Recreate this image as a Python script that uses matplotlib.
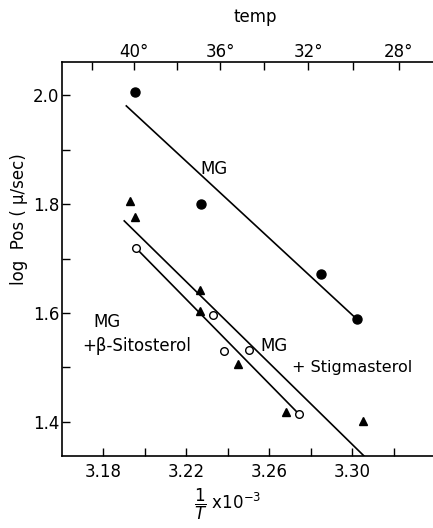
import numpy as np
import matplotlib.pyplot as plt

# MG (filled circles)
mg_x = [3.195, 3.227, 3.285, 3.302]
mg_y = [2.005, 1.800, 1.672, 1.589]
mg_fit_x = [3.191, 3.302]
mg_fit_y = [1.980, 1.589]

# MG + stigmasterol (filled triangles)
stig_x = [3.193, 3.195, 3.2265, 3.2265, 3.245, 3.268, 3.305]
stig_y = [1.805, 1.776, 1.642, 1.604, 1.506, 1.418, 1.402]
stig_fit_x = [3.190, 3.306]
stig_fit_y = [1.769, 1.336]

# MG + beta-sitosterol (open circles)
sito_x = [3.1957, 3.233, 3.238, 3.250, 3.274]
sito_y = [1.719, 1.596, 1.530, 1.532, 1.415]
sito_fit_x = [3.1957, 3.2733]
sito_fit_y = [1.719, 1.418]

x_ticks = [3.18, 3.22, 3.26, 3.30]
y_ticks = [1.4, 1.6, 1.8, 2.0]
temp_ticks = [40, 36, 32, 28]
temp_minor = [42, 38, 34, 30]

plt.rcParams['font.family'] = ['DejaVu Sans']

fig = plt.figure(figsize=(4.33, 5.28), dpi=100)
ax = fig.add_axes([62 / 433, 1 - 456 / 528, 1 - 62 / 433, (456 - 62) / 528])

ax.plot(mg_fit_x, mg_fit_y, color='black', lw=1.2)
ax.plot(stig_fit_x, stig_fit_y, color='black', lw=1.2)
ax.plot(sito_fit_x, sito_fit_y, color='black', lw=1.2)

ax.plot(mg_x, mg_y, 'o', color='black', ms=6.5, ls='none')
ax.plot(stig_x, stig_y, '^', color='black', ms=6, ls='none')
ax.plot(sito_x, sito_y, 'o', mfc='white', mec='black', mew=1.0, ms=5.5, ls='none')

ax.set_xlim(3.16, 3.3388)
ax.set_ylim(1.3376, 2.0606)

ax.set_xticks(x_ticks)
ax.set_xticklabels([f"{v:.2f}" for v in x_ticks])
ax.set_xticks([3.20, 3.24, 3.28, 3.32], minor=True)
ax.set_yticks(y_ticks)
ax.set_yticklabels([f"{v:.1f}" for v in y_ticks])
ax.set_yticks([1.5, 1.7, 1.9], minor=True)

ax.tick_params(direction='in', length=6, width=1, labelsize=12)
ax.tick_params(which='minor', direction='in', length=6, width=1)
ax.tick_params(axis='x', pad=5)
ax.tick_params(axis='y', pad=2)

ax.spines['right'].set_visible(False)
for s in ['left', 'bottom', 'top']:
    ax.spines[s].set_linewidth(1.2)

# top temperature axis
top = ax.secondary_xaxis('top', functions=(lambda v: v, lambda v: v))
top.set_xticks([1 / (t + 273) * 1000 for t in temp_ticks])
top.set_xticklabels([f"{t}\u00b0" for t in temp_ticks])
top.set_xticks([1 / (t + 273) * 1000 for t in temp_minor], minor=True)
top.tick_params(direction='in', length=6, width=1, labelsize=12, pad=1)
top.tick_params(which='minor', direction='in', length=6, width=1)
top.spines['top'].set_visible(False)
fig.text(255 / 433, 1 - 17 / 528, "temp", ha='center', va='center', fontsize=12)

ax.set_ylabel("log  Pos ( \u03bc/sec)", fontsize=12)
ax.yaxis.set_label_coords(-0.092, 0.60)
ax.set_xlabel(r"$\dfrac{1}{T}$" + " x10$^{-3}$", fontsize=12)
ax.xaxis.set_label_coords(0.447, -0.079)

ax.text(3.2265, 1.865, "MG", fontsize=12, ha='left', va='center')
ax.text(3.175, 1.583, "MG", fontsize=12, ha='left', va='center')
ax.text(3.1696, 1.540, "+\u03b2-Sitosterol", fontsize=12, ha='left', va='center')
ax.text(3.2555, 1.540, "MG", fontsize=12, ha='left', va='center')
ax.text(3.2708, 1.500, "+ Stigmasterol", fontsize=11.5, ha='left', va='center')

fig.savefig("out.png", dpi=100)
